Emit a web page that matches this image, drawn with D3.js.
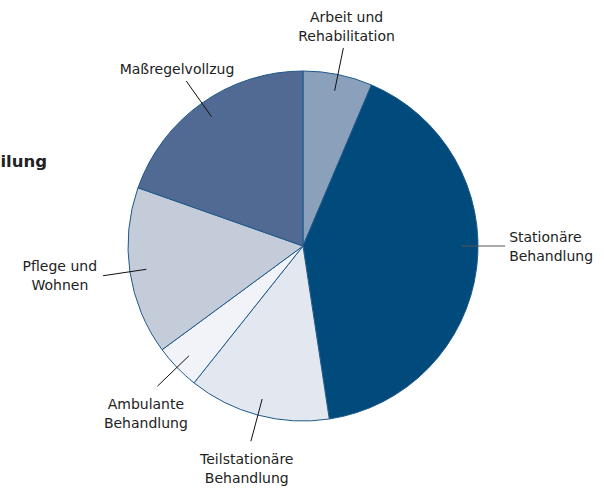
<!DOCTYPE html>
<html><head><meta charset="utf-8">
<script src="https://cdn.jsdelivr.net/npm/d3@7/dist/d3.min.js"></script>
<style>html,body{margin:0;padding:0;background:#fff;}svg{display:block;}</style>
</head><body><svg id="c" width="604" height="490"></svg>
<script>
const categories = ["Arbeit und Rehabilitation","Stationäre Behandlung","Teilstationäre Behandlung","Ambulante Behandlung","Pflege und Wohnen","Maßregelvollzug"];
const labelLines = [["Arbeit und","Rehabilitation"],["Stationäre","Behandlung"],["Teilstationäre","Behandlung"],["Ambulante","Behandlung"],["Pflege und","Wohnen"],["Maßregelvollzug"]];
const values = [6.4, 41.2, 13.1, 4.2, 15.5, 19.6];
const colors = ["#8aa0bb","#004a7c","#e2e7f0","#f1f3f8","#c5ccd9","#506a94"];
const titleText = "Verteilung";

const svg = d3.select("#c");
const cx = 303, cy = 246, r = 175;
const g = svg.append("g").attr("transform", `translate(${cx},${cy})`);

const data = categories.map((c,i)=>({cat:c, value:values[i], lines:labelLines[i], color:colors[i]}));
const pie = d3.pie().sort(null).value(d=>d.value);
const arcs = pie(data);
const arc = d3.arc().innerRadius(0).outerRadius(r);

g.selectAll("path.slice").data(arcs).join("path")
  .attr("class","slice")
  .attr("d", arc)
  .attr("fill", d=>d.data.color)
  .attr("stroke", "#1f5a8b")
  .attr("stroke-width", 1)
  .attr("stroke-linejoin","round");

const font = "DejaVu Sans, Verdana, sans-serif";
const lh = 19;
arcs.forEach(a=>{
  let ang = (a.startAngle + a.endAngle)/2;
  if (a.data.cat === "Stationäre Behandlung") ang = Math.PI/2;
  const s = Math.sin(ang), c = -Math.cos(ang);
  const r1 = r*0.905, r2 = r*1.155;
  const x1 = s*r1, y1 = c*r1, x2 = s*r2, y2 = c*r2;
  g.append("line").attr("x1",x1).attr("y1",y1).attr("x2",x2).attr("y2",y2)
    .attr("stroke", a.data.cat === "Stationäre Behandlung" ? "#555" : "#111").attr("stroke-width",1);
  const n = a.data.lines.length;
  const t = g.append("text")
    .attr("font-family", font).attr("font-size", 14).attr("fill","#222");
  const spans = a.data.lines.map(ln=>t.append("tspan").text(ln));
  const w = d3.max(spans, sp=>sp.node().getComputedTextLength());
  let anchor, tx, ty0;
  if (Math.abs(c) > 0.6) {
    anchor = "middle";
    tx = x2 + s*16;
    if (c < 0) ty0 = y2 - 7 - (n-1)*lh; else ty0 = y2 + 23;
  } else if (s > 0) {
    anchor = "start";
    tx = x2 + 4;
    ty0 = y2 - (n-1)*lh/2 + 5;
  } else {
    anchor = "middle";
    tx = x2 - 6 - w/2;
    ty0 = y2 - (n-1)*lh/2 + 5;
  }
  t.attr("text-anchor", anchor);
  spans.forEach((sp,i)=>sp.attr("x", tx).attr("y", ty0 + i*lh));
});

svg.append("text").attr("x",47).attr("y",167).attr("text-anchor","end")
  .attr("font-family", font).attr("font-weight","bold").attr("font-size",16.5)
  .attr("fill","#222").text(titleText);
</script></body></html>
